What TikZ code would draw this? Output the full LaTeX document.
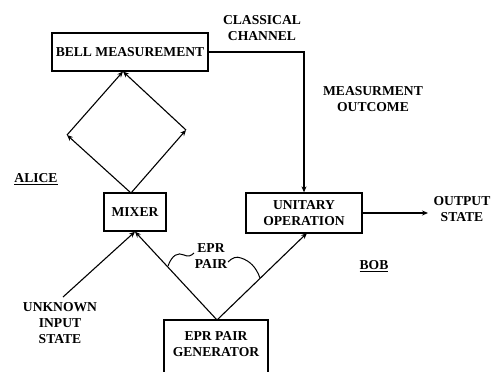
\documentclass[tikz,border=0pt]{standalone}
\usepackage{fontspec}
\setmainfont{Liberation Serif}
\usetikzlibrary{arrows.meta,calc}
\begin{document}
\begin{tikzpicture}[x=1pt,y=-1pt,
  every node/.style={font=\fontsize{13.6}{16}\selectfont\bfseries, inner sep=0pt, align=center},
  box/.style={draw, line width=1.3pt, minimum width=#1},
  conn/.style={line width=1.1pt, -{Stealth[length=6pt,width=5pt]}},
  plain/.style={line width=1.1pt},
  brace/.style={line width=1pt}]
\useasboundingbox (0,0) rectangle (501,372);
% boxes
\node[box=156, minimum height=38] (bell) at (130,52) {BELL MEASUREMENT};
\node[box=62, minimum height=38] (mixer) at (135,212) {MIXER};
\node[box=116, minimum height=40] (unitary) at (304,213) {UNITARY\\OPERATION};
\node[box=104, minimum height=58] (gen) at (216,349) {};
\node (gentext) at (216,344.5) {EPR PAIR\\GENERATOR};
% labels
\node (classical) at (262,28) {CLASSICAL\\CHANNEL};
\node (outcome) at (373,99.5) {MEASURMENT\\OUTCOME};
\node (alice) at (36,179) {\underline{ALICE}};
\node (bob) at (374,266) {\underline{BOB}};
\node (output) at (462,209) {OUTPUT\\STATE};
\node (unknown) at (60,323) {UNKNOWN\\INPUT\\STATE};
\node (eprlabel) at (211,256.5) {EPR\\PAIR};
% coordinates
\coordinate (bt) at (123,71.5);
\coordinate (dl) at (67,135);
\coordinate (dr) at (186,130);
\coordinate (mt) at (131,193);
\coordinate (outend) at (428,213);
\coordinate (instart) at (63,297);
\coordinate (gt) at (217,320);
\coordinate (ub) at (307,233);
% connectors
\draw[conn] (bell.east) -| (unitary.north);
\draw[conn] (unitary.east) -- (outend);
\draw[conn] (mt) -- (dl);
\draw[conn] (mt) -- (dr);
\draw[conn] (dl) -- (bt);
\draw[conn] (dr) -- (bt);
\draw[conn] (instart) -- (mixer.south);
\draw[conn] (gt) -- (mixer.south);
\draw[conn] (gt) -- (ub);
% braces
\draw[brace] (168,266) .. controls (172,255) and (178,252) .. (184,255) .. controls (188,257) and (191,256) .. (194,253);
\draw[brace] (228,262) .. controls (232,258) and (236,256) .. (241,258) .. controls (250,261) and (256,267) .. (260,278);
\end{tikzpicture}
\end{document}
